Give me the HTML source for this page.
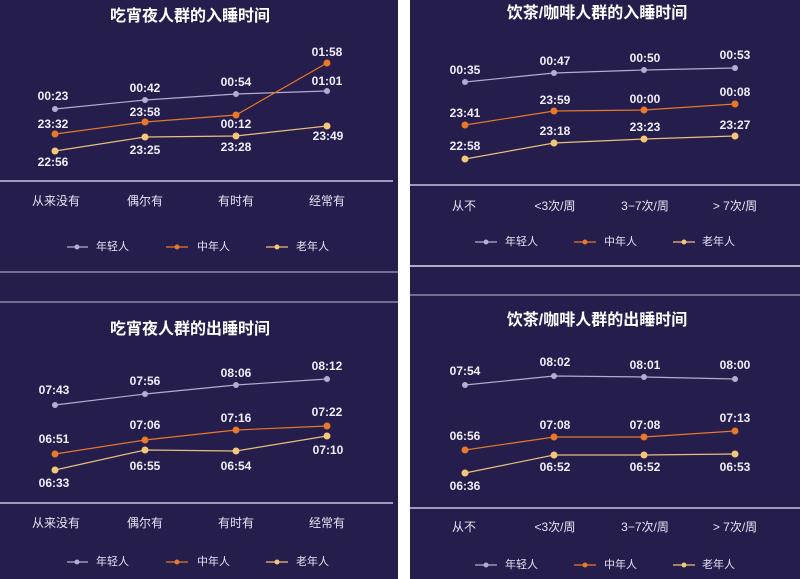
<!DOCTYPE html>
<html><head><meta charset="utf-8"><style>
html,body{margin:0;padding:0;background:#fff;}
svg{display:block}
text{font-family:"Liberation Sans","Noto Sans CJK SC",sans-serif;}
.t{fill:#fff;font-size:16px;font-weight:bold;text-anchor:middle}
.v{fill:#f1eefa;font-size:12px;font-weight:bold;text-anchor:middle;dominant-baseline:central}
.a{fill:#e8e4f4;font-size:12px;text-anchor:middle;dominant-baseline:central}
.l{fill:#e8e4f4;font-size:11px;dominant-baseline:central}
.y{stroke:#b5acd0;fill:none;stroke-width:1.2}
.m{stroke:#e8782a;fill:none;stroke-width:1.2}
.o{stroke:#e9c07f;fill:none;stroke-width:1.2}
.ax{stroke:#c9c3dc;stroke-width:1.5}
</style></head><body>
<svg width="800" height="579" viewBox="0 0 800 579" xmlns="http://www.w3.org/2000/svg">
<rect width="800" height="579" fill="#fff"/>
<rect x="0" y="0" width="398" height="579" fill="#251d4b"/>
<rect x="410" y="0" width="390" height="579" fill="#251d4b"/>
<line x1="0" y1="272" x2="398" y2="272" stroke="#8e86a8" stroke-width="1.5"/>
<line x1="0" y1="302" x2="398" y2="302" stroke="#8e86a8" stroke-width="1.5"/>
<line x1="410" y1="266" x2="800" y2="266" stroke="#e0dcef" stroke-width="1.5"/>
<line x1="410" y1="295" x2="800" y2="295" stroke="#8e86a8" stroke-width="1.5"/>

<!-- Top-left -->
<text class="t" x="190" y="21">吃宵夜人群的入睡时间</text>
<polyline class="y" points="55,109 145,100 236,94 327,91"/>
<polyline class="m" points="55,134 145,122 236,115 327,63"/>
<polyline class="o" points="55,151 145,137 236,136 327,126"/>
<g fill="#b5acd0"><circle cx="55" cy="109" r="3"/><circle cx="145" cy="100" r="3"/><circle cx="236" cy="94" r="3"/><circle cx="327" cy="91" r="3"/></g>
<g fill="#e8782a"><circle cx="55" cy="134" r="3.5"/><circle cx="145" cy="122" r="3.5"/><circle cx="236" cy="115" r="3.5"/><circle cx="327" cy="63" r="3.5"/></g>
<g fill="#f3c77a"><circle cx="55" cy="151" r="3.5"/><circle cx="145" cy="137" r="3.5"/><circle cx="236" cy="136" r="3.5"/><circle cx="327" cy="126" r="3.5"/></g>
<text class="v" x="53" y="96">00:23</text><text class="v" x="145" y="88">00:42</text><text class="v" x="236" y="82">00:54</text><text class="v" x="327" y="81">01:01</text>
<text class="v" x="327" y="52">01:58</text><text class="v" x="53" y="124">23:32</text><text class="v" x="145" y="112">23:58</text><text class="v" x="236" y="124">00:12</text>
<text class="v" x="53" y="162">22:56</text><text class="v" x="145" y="150">23:25</text><text class="v" x="236" y="147">23:28</text><text class="v" x="328" y="136">23:49</text>
<line class="ax" x1="0" y1="181" x2="393" y2="181"/>
<text class="a" x="56" y="201">从来没有</text><text class="a" x="145" y="201">偶尔有</text><text class="a" x="236" y="201">有时有</text><text class="a" x="327" y="201">经常有</text>
<g><line class="y" x1="67" y1="247" x2="88" y2="247"/><circle cx="77" cy="247" r="2.5" fill="#b5acd0"/><text class="l" x="96" y="247">年轻人</text>
<line class="m" x1="166" y1="247" x2="188" y2="247"/><circle cx="177" cy="247" r="2.5" fill="#e8782a"/><text class="l" x="197" y="247">中年人</text>
<line class="o" x1="266" y1="247" x2="288" y2="247"/><circle cx="277" cy="247" r="2.5" fill="#f3c77a"/><text class="l" x="296" y="247">老年人</text></g>

<!-- Bottom-left -->
<text class="t" x="190" y="334">吃宵夜人群的出睡时间</text>
<polyline class="y" points="55,405 145,394 236,385 327,379"/>
<polyline class="m" points="55,454 145,440 236,430 327,426"/>
<polyline class="o" points="55,470 145,450 236,451 327,436"/>
<g fill="#b5acd0"><circle cx="55" cy="405" r="3"/><circle cx="145" cy="394" r="3"/><circle cx="236" cy="385" r="3"/><circle cx="327" cy="379" r="3"/></g>
<g fill="#e8782a"><circle cx="55" cy="454" r="3.5"/><circle cx="145" cy="440" r="3.5"/><circle cx="236" cy="430" r="3.5"/><circle cx="327" cy="426" r="3.5"/></g>
<g fill="#f3c77a"><circle cx="55" cy="470" r="3.5"/><circle cx="145" cy="450" r="3.5"/><circle cx="236" cy="451" r="3.5"/><circle cx="327" cy="436" r="3.5"/></g>
<text class="v" x="54" y="390">07:43</text><text class="v" x="145" y="381">07:56</text><text class="v" x="236" y="373">08:06</text><text class="v" x="327" y="366">08:12</text>
<text class="v" x="54" y="439">06:51</text><text class="v" x="145" y="425">07:06</text><text class="v" x="236" y="418">07:16</text><text class="v" x="327" y="412">07:22</text>
<text class="v" x="54" y="483">06:33</text><text class="v" x="145" y="466">06:55</text><text class="v" x="236" y="466">06:54</text><text class="v" x="328" y="450">07:10</text>
<line class="ax" x1="0" y1="503" x2="393" y2="503"/>
<text class="a" x="56" y="523">从来没有</text><text class="a" x="145" y="523">偶尔有</text><text class="a" x="236" y="523">有时有</text><text class="a" x="327" y="523">经常有</text>
<g><line class="y" x1="67" y1="562" x2="88" y2="562"/><circle cx="77" cy="562" r="2.5" fill="#b5acd0"/><text class="l" x="96" y="562">年轻人</text>
<line class="m" x1="166" y1="562" x2="188" y2="562"/><circle cx="177" cy="562" r="2.5" fill="#e8782a"/><text class="l" x="197" y="562">中年人</text>
<line class="o" x1="266" y1="562" x2="288" y2="562"/><circle cx="277" cy="562" r="2.5" fill="#f3c77a"/><text class="l" x="296" y="562">老年人</text></g>

<!-- Top-right -->
<text class="t" x="597" y="18">饮茶/咖啡人群的入睡时间</text>
<polyline class="y" points="465,82 554,73 644,70 735,68"/>
<polyline class="m" points="465,125 554,111 644,110 735,104"/>
<polyline class="o" points="465,159 554,143 644,139 735,136"/>
<g fill="#b5acd0"><circle cx="465" cy="82" r="3"/><circle cx="554" cy="73" r="3"/><circle cx="644" cy="70" r="3"/><circle cx="735" cy="68" r="3"/></g>
<g fill="#e8782a"><circle cx="465" cy="125" r="3.5"/><circle cx="554" cy="111" r="3.5"/><circle cx="644" cy="110" r="3.5"/><circle cx="735" cy="104" r="3.5"/></g>
<g fill="#f3c77a"><circle cx="465" cy="159" r="3.5"/><circle cx="554" cy="143" r="3.5"/><circle cx="644" cy="139" r="3.5"/><circle cx="735" cy="136" r="3.5"/></g>
<text class="v" x="465" y="70">00:35</text><text class="v" x="555" y="61">00:47</text><text class="v" x="645" y="58">00:50</text><text class="v" x="735" y="55">00:53</text>
<text class="v" x="465" y="113">23:41</text><text class="v" x="555" y="100">23:59</text><text class="v" x="645" y="99">00:00</text><text class="v" x="735" y="92">00:08</text>
<text class="v" x="465" y="146">22:58</text><text class="v" x="555" y="131">23:18</text><text class="v" x="645" y="127">23:23</text><text class="v" x="735" y="125">23:27</text>
<line class="ax" x1="410" y1="185" x2="800" y2="185"/>
<text class="a" x="464" y="206">从不</text><text class="a" x="555" y="206">&lt;3次/周</text><text class="a" x="645" y="206">3−7次/周</text><text class="a" x="735" y="206">&gt; 7次/周</text>
<g><line class="y" x1="475" y1="242" x2="497" y2="242"/><circle cx="486" cy="242" r="2.5" fill="#b5acd0"/><text class="l" x="505" y="242">年轻人</text>
<line class="m" x1="574" y1="242" x2="596" y2="242"/><circle cx="585" cy="242" r="2.5" fill="#e8782a"/><text class="l" x="604" y="242">中年人</text>
<line class="o" x1="673" y1="242" x2="695" y2="242"/><circle cx="684" cy="242" r="2.5" fill="#f3c77a"/><text class="l" x="702" y="242">老年人</text></g>

<!-- Bottom-right -->
<text class="t" x="597" y="325">饮茶/咖啡人群的出睡时间</text>
<polyline class="y" points="465,385 554,376 644,377 735,379"/>
<polyline class="m" points="465,450 554,437 644,437 735,431"/>
<polyline class="o" points="465,473 554,455 644,455 735,454"/>
<g fill="#b5acd0"><circle cx="465" cy="385" r="3"/><circle cx="554" cy="376" r="3"/><circle cx="644" cy="377" r="3"/><circle cx="735" cy="379" r="3"/></g>
<g fill="#e8782a"><circle cx="465" cy="450" r="3.5"/><circle cx="554" cy="437" r="3.5"/><circle cx="644" cy="437" r="3.5"/><circle cx="735" cy="431" r="3.5"/></g>
<g fill="#f3c77a"><circle cx="465" cy="473" r="3.5"/><circle cx="554" cy="455" r="3.5"/><circle cx="644" cy="455" r="3.5"/><circle cx="735" cy="454" r="3.5"/></g>
<text class="v" x="465" y="371">07:54</text><text class="v" x="555" y="362">08:02</text><text class="v" x="645" y="365">08:01</text><text class="v" x="735" y="365">08:00</text>
<text class="v" x="465" y="436">06:56</text><text class="v" x="555" y="425">07:08</text><text class="v" x="645" y="425">07:08</text><text class="v" x="735" y="418">07:13</text>
<text class="v" x="465" y="486">06:36</text><text class="v" x="555" y="467">06:52</text><text class="v" x="645" y="467">06:52</text><text class="v" x="735" y="467">06:53</text>
<line class="ax" x1="410" y1="508" x2="800" y2="508"/>
<text class="a" x="464" y="527">从不</text><text class="a" x="555" y="527">&lt;3次/周</text><text class="a" x="645" y="527">3−7次/周</text><text class="a" x="735" y="527">&gt; 7次/周</text>
<g><line class="y" x1="475" y1="565" x2="497" y2="565"/><circle cx="486" cy="565" r="2.5" fill="#b5acd0"/><text class="l" x="505" y="565">年轻人</text>
<line class="m" x1="574" y1="565" x2="596" y2="565"/><circle cx="585" cy="565" r="2.5" fill="#e8782a"/><text class="l" x="604" y="565">中年人</text>
<line class="o" x1="673" y1="565" x2="695" y2="565"/><circle cx="684" cy="565" r="2.5" fill="#f3c77a"/><text class="l" x="702" y="565">老年人</text></g>
</svg>
</body></html>
